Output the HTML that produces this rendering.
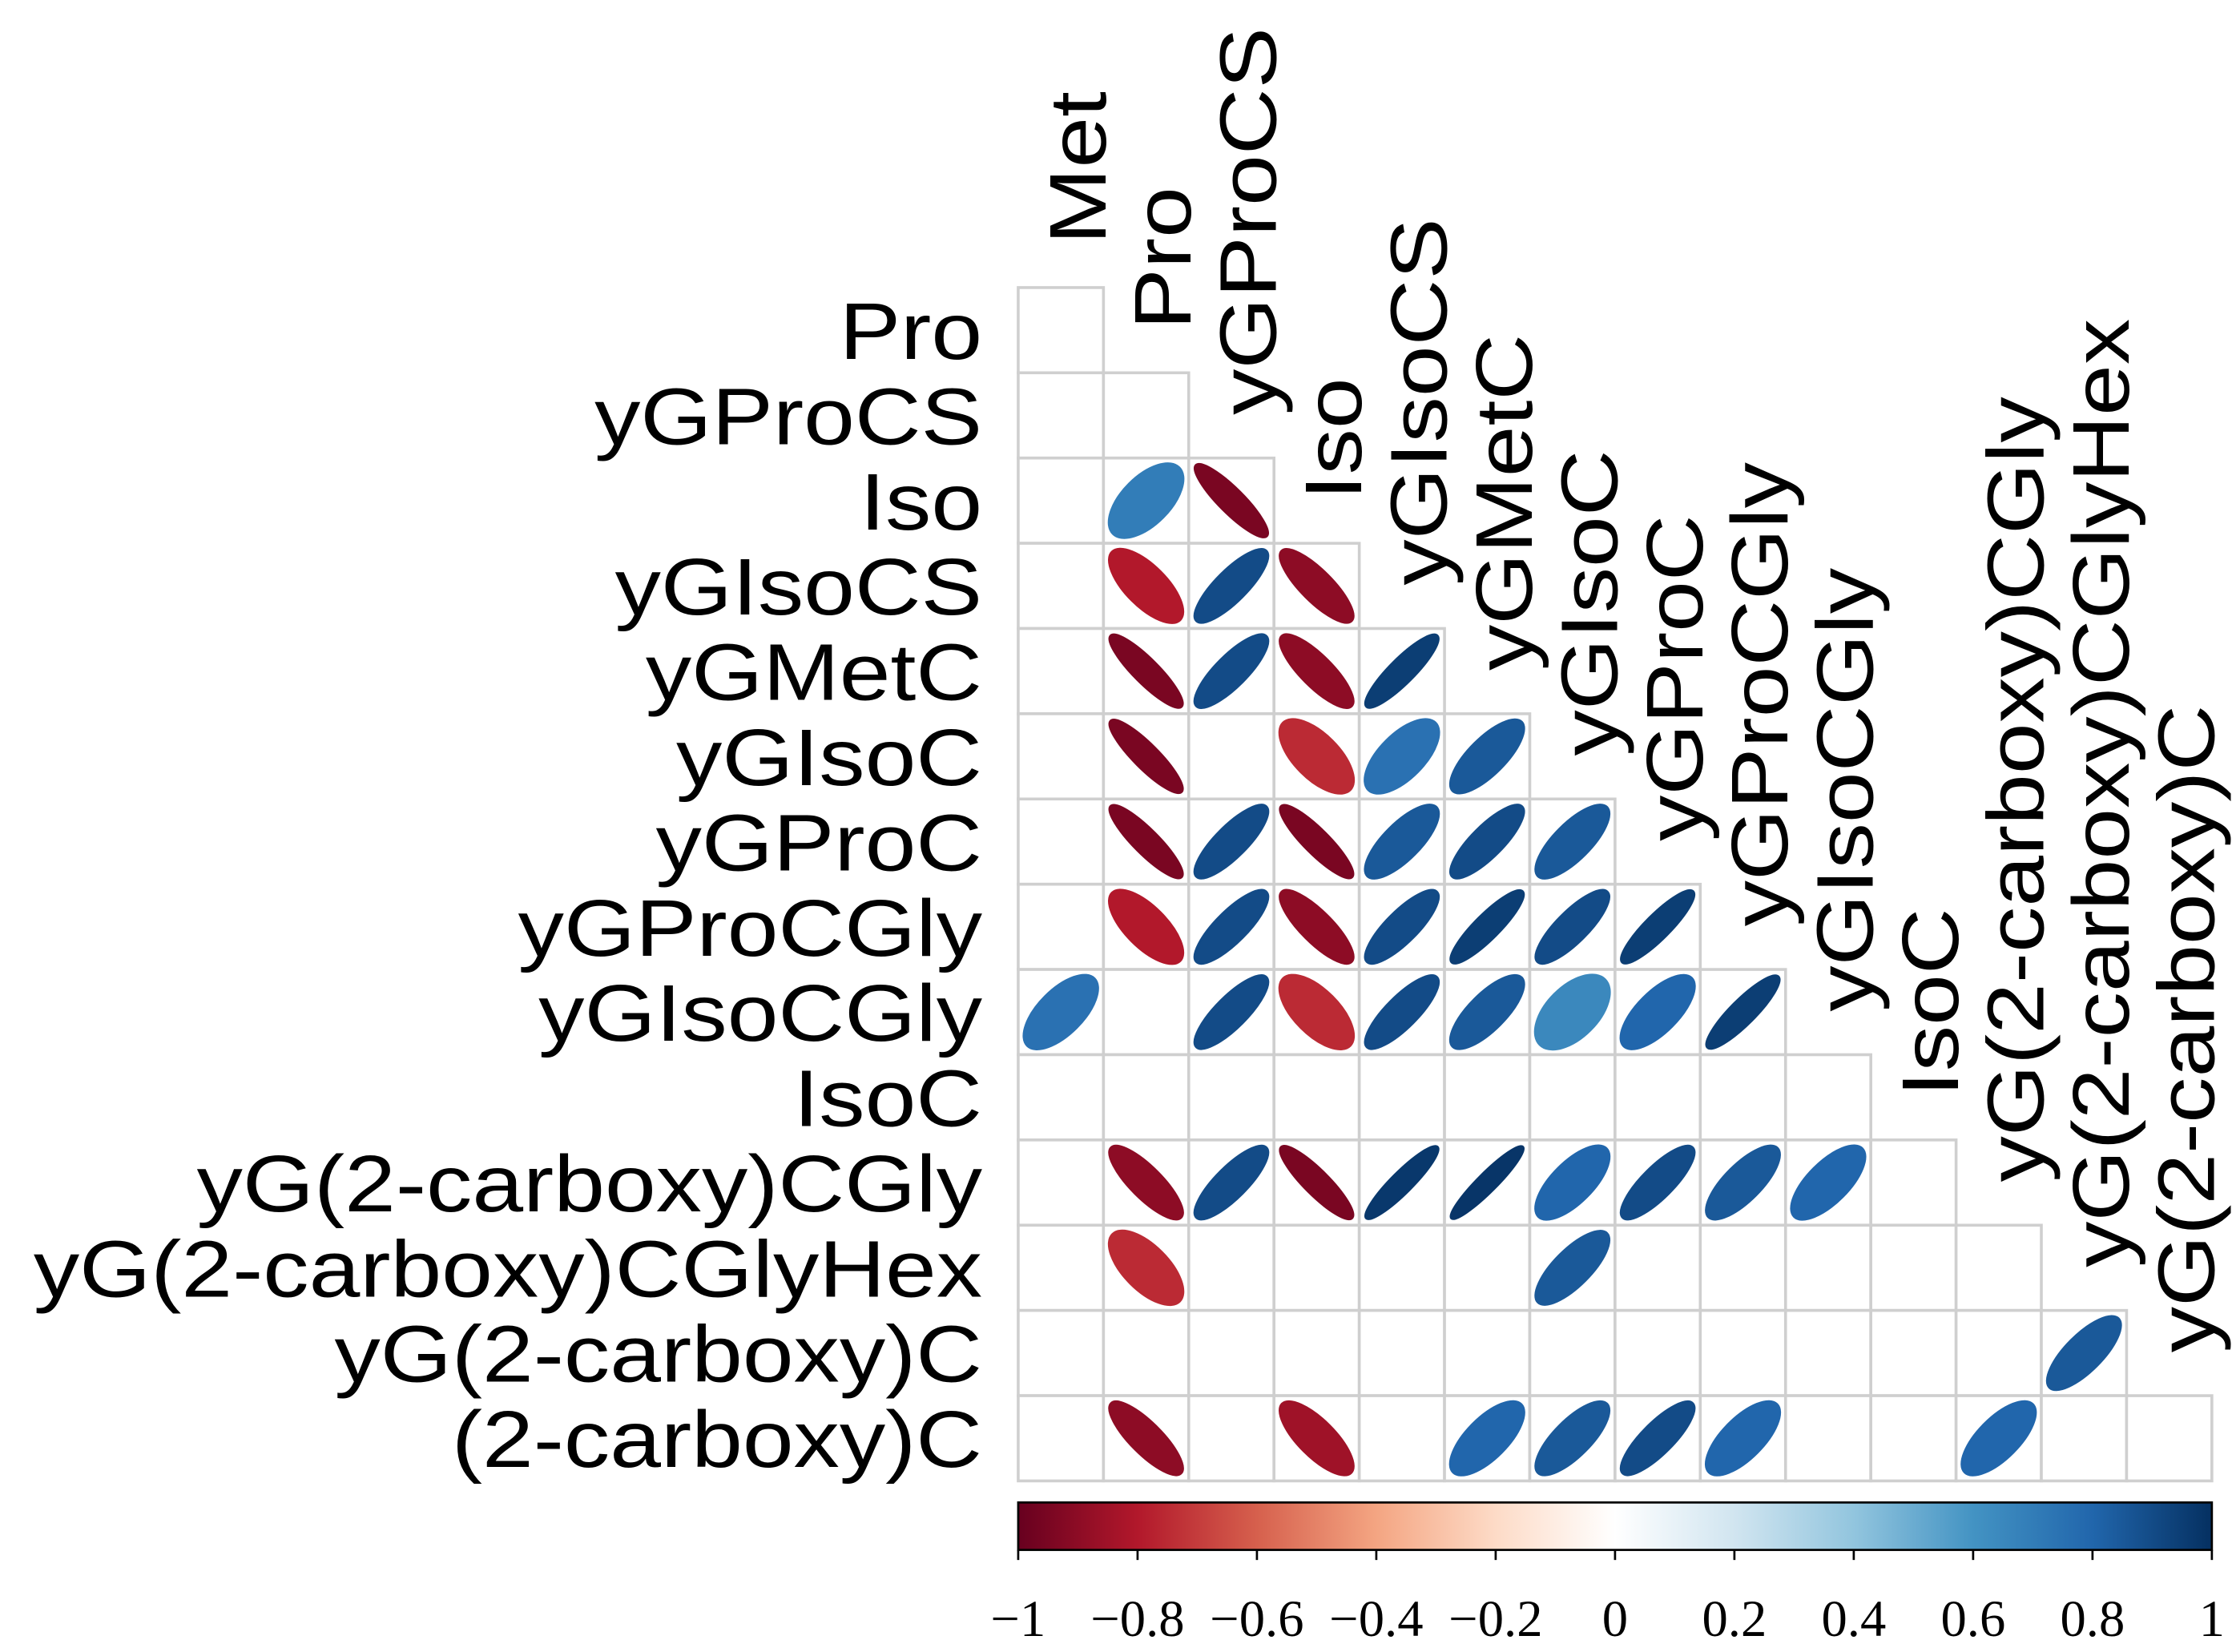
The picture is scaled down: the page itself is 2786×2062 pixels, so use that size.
<!DOCTYPE html>
<html><head><meta charset="utf-8"><style>
html,body{margin:0;padding:0;background:#fff;}
svg{display:block;}
</style></head><body>
<svg id="chart" width="2786" height="2062" viewBox="0 0 1552 1149" preserveAspectRatio="none" xmlns="http://www.w3.org/2000/svg">
<defs>
<linearGradient id="rdbu" x1="0" x2="1" y1="0" y2="0">
<stop offset="0" stop-color="#67001F"/><stop offset="0.1" stop-color="#B2182B"/><stop offset="0.2" stop-color="#D6604D"/><stop offset="0.3" stop-color="#F4A582"/><stop offset="0.4" stop-color="#FDDBC7"/><stop offset="0.5" stop-color="#FFFFFF"/><stop offset="0.6" stop-color="#D1E5F0"/><stop offset="0.7" stop-color="#92C5DE"/><stop offset="0.8" stop-color="#4393C3"/><stop offset="0.9" stop-color="#2166AC"/><stop offset="1" stop-color="#053061"/>
</linearGradient>
</defs>
<g id="grid"></g><g id="marks"></g><g id="labels"></g><g id="cbar"></g>
</svg>
<script>
const colLabels = ["Met","Pro","yGProCS","Iso","yGIsoCS","yGMetC","yGIsoC","yGProC","yGProCGly","yGIsoCGly","IsoC","yG(2-carboxy)CGly","yG(2-carboxy)CGlyHex","yG(2-carboxy)C"];
const rowLabels = ["Pro","yGProCS","Iso","yGIsoCS","yGMetC","yGIsoC","yGProC","yGProCGly","yGIsoCGly","IsoC","yG(2-carboxy)CGly","yG(2-carboxy)CGlyHex","yG(2-carboxy)C","(2-carboxy)C"];
const N = null;
const corrValues = [
 [N],
 [N,N],
 [N,0.7,-0.95],
 [N,-0.8,0.9,-0.9],
 [N,-0.95,0.9,-0.9,0.95],
 [N,-0.95,N,-0.75,0.75,0.85],
 [N,-0.95,0.9,-0.95,0.85,0.9,0.85],
 [N,-0.8,0.9,-0.9,0.9,0.95,0.9,0.95],
 [0.75,N,0.9,-0.75,0.9,0.85,0.65,0.8,0.95],
 [N,N,N,N,N,N,N,N,N,N],
 [N,-0.9,0.9,-0.95,0.97,0.98,0.8,0.9,0.85,0.8,N],
 [N,-0.75,N,N,N,N,0.85,N,N,N,N,N],
 [N,N,N,N,N,N,N,N,N,N,N,N,0.85],
 [N,-0.9,N,-0.85,N,0.8,0.85,0.9,0.8,N,N,0.8,N,N]
];
const tickValues = [-1,-0.8,-0.6,-0.4,-0.2,0,0.2,0.4,0.6,0.8,1];
const tickLabels = ["\u22121","\u22120.8","\u22120.6","\u22120.4","\u22120.2","0","0.2","0.4","0.6","0.8","1"];

const NS="http://www.w3.org/2000/svg";
const X0=708, Y0=200, CW=(1538-708)/14, CH=(1030-200)/14;
const xPos=j=>X0+j*CW, yPos=i=>Y0+i*CH;
const stops=[[103,0,31],[178,24,43],[214,96,77],[244,165,130],[253,219,199],[255,255,255],[209,229,240],[146,197,222],[67,147,195],[33,102,172],[5,48,97]];
function color(v){const t=(v+1)/2*10;const k=Math.min(9,Math.floor(t));const f=t-k;const a=stops[k],b=stops[k+1];
 return "rgb("+a.map((c,i)=>Math.round(c+(b[i]-c)*f)).join(",")+")";}
function mk(tag,attrs,parent){const e=document.createElementNS(NS,tag);for(const k in attrs)e.setAttribute(k,attrs[k]);parent.appendChild(e);return e;}
const grid=document.getElementById('grid'),marks=document.getElementById('marks'),labels=document.getElementById('labels'),cbar=document.getElementById('cbar');
for(let i=0;i<14;i++){for(let j=0;j<=i;j++){
 const r=mk('rect',{x:xPos(j),y:yPos(i),width:CW,height:CH,fill:'#fff',stroke:'#cfcfcf','stroke-width':2},grid);
 
 
 const v=corrValues[i][j];
 if(v!==null&&v!==undefined){
  const cx=xPos(j)+CW/2, cy=yPos(i)+CH/2;
  const a=25*Math.sqrt(1+Math.abs(v)), b=25*Math.sqrt(1-Math.abs(v))+3;
  const e=mk('ellipse',{cx:cx,cy:cy,rx:a,ry:b,fill:color(v),stroke:color(v),'stroke-width':1.5,transform:`rotate(${v>0?-45:45} ${cx} ${cy})`},marks);
  
  
 }
}}
const SX=1.14, FS=56;
rowLabels.forEach((t,i)=>{
 const x=683, y=yPos(i)+CH/2+20;
 const e=mk('text',{x:0,y:0,'text-anchor':'end','font-family':'Liberation Sans, sans-serif','font-size':FS,fill:'#000',transform:`translate(${x} ${y}) scale(${SX} 1)`},labels);
 e.textContent=t;
 
 
});
colLabels.forEach((t,j)=>{
 const x=xPos(j)+CW/2+31, y=yPos(j)-30;
 const e=mk('text',{x:0,y:0,'text-anchor':'start','font-family':'Liberation Sans, sans-serif','font-size':FS,fill:'#000',transform:`translate(${x} ${y}) rotate(-90) scale(${SX} 1)`},labels);
 e.textContent=t;
 
 
});
const BX0=708,BX1=1538,BY=1045,BH=33;
const bar=mk('rect',{x:BX0,y:BY,width:BX1-BX0,height:BH,fill:'url(#rdbu)',stroke:'#000','stroke-width':1.5},cbar);


const cbX=v=>BX0+(v+1)/2*(BX1-BX0);
tickValues.forEach((v,k)=>{
 const x=cbX(v);
 const l=mk('line',{x1:x,x2:x,y1:BY+BH,y2:BY+BH+7,stroke:'#000','stroke-width':1.5},cbar);
 
 
 const t=mk('text',{x:x,y:1138,'text-anchor':'middle','font-family':'Liberation Serif, serif','font-size':36,fill:'#000'},cbar);
 t.textContent=tickLabels[k];
 
 
});
</script>
</body></html>
